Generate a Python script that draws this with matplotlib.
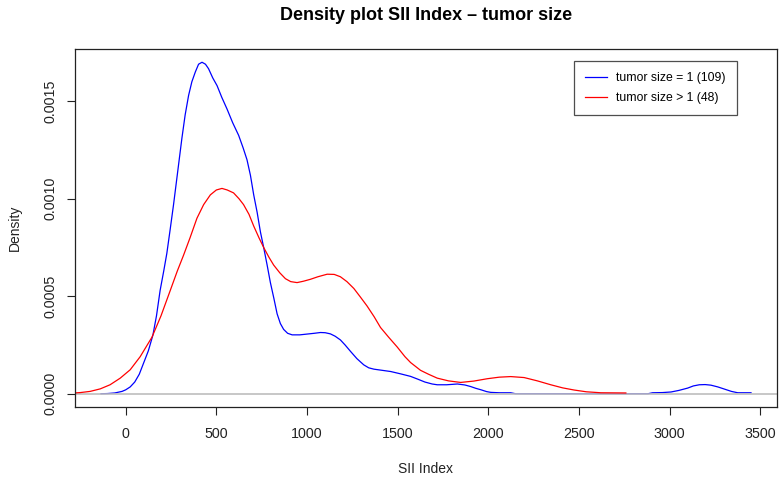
import numpy as np
import matplotlib
matplotlib.use("Agg")
import matplotlib.pyplot as plt

plt.rcParams["font.family"] = ["Liberation Sans", "DejaVu Sans"]

# density curves (x = SII index, y = density)
sii_small = [-136, -100, -60, -20, 0, 25, 50, 75, 100, 125, 150, 170, 190, 210,
             227, 245, 264, 287, 310, 328, 347, 365, 384, 402, 421, 440, 457,
             480, 504, 530, 559, 590, 623, 648, 669, 688, 706, 725, 743, 761,
             780, 798, 817, 835, 853, 871, 893, 918, 960, 1000, 1040, 1074,
             1100, 1129, 1155, 1184, 1210, 1240, 1275, 1313, 1340, 1369, 1415,
             1461, 1516, 1571, 1610, 1650, 1690, 1718, 1770, 1829, 1870, 1902,
             1930, 1960, 1990, 2013, 2060, 2123, 2150, 2500, 2880, 2905, 2960,
             3007, 3050, 3099, 3130, 3163, 3195, 3227, 3265, 3301, 3340, 3375,
             3448]
dens_small = [0.0, 0.000001, 0.000004, 0.000012, 0.00002, 0.000035, 0.00006,
              0.0001, 0.00016, 0.00022, 0.0003, 0.0004, 0.00053, 0.00063,
              0.00072, 0.00084, 0.00097, 0.00114, 0.00131, 0.00143, 0.00153,
              0.0016, 0.00165, 0.00169, 0.0017, 0.00169, 0.001667, 0.00162,
              0.00158, 0.00152, 0.00146, 0.00139, 0.001325, 0.00126, 0.0012,
              0.00112, 0.00102, 0.00093, 0.00083, 0.00075, 0.00066, 0.00057,
              0.00049, 0.00041, 0.00036, 0.00033, 0.00031, 0.000302, 0.000302,
              0.000306, 0.00031, 0.000314, 0.000313, 0.000307, 0.000295,
              0.000276, 0.00025, 0.000217, 0.00018, 0.000148, 0.000133,
              0.000126, 0.00012, 0.000114, 0.000102, 0.000089, 0.000075,
              0.00006, 0.00005, 0.000046, 0.000046, 0.00005, 0.000045, 0.000037,
              0.000028, 0.00002, 0.000011, 0.000007, 0.000005, 0.000005, 0.0,
              0.0, 0.0, 0.000005, 0.000006, 0.000009, 0.000017, 0.000029,
              0.00004, 0.000046, 0.000047, 0.000044, 0.000035, 0.000024,
              0.000012, 0.000005, 0.000005]

sii_large = [-300, -250, -196, -140, -86, -30, 25, 80, 145, 195, 246, 285, 319,
             355, 393, 430, 467, 500, 531, 560, 595, 625, 650, 680, 706, 735,
             761, 790, 816, 850, 881, 910, 945, 980, 1019, 1060, 1111, 1150,
             1184, 1220, 1258, 1295, 1331, 1370, 1405, 1450, 1497, 1540, 1571,
             1626, 1670, 1718, 1780, 1847, 1920, 1994, 2060, 2123, 2197, 2270,
             2344, 2410, 2473, 2540, 2620, 2758]
dens_large = [0.000003, 0.000006, 0.000012, 0.000025, 0.000046, 0.00008,
              0.000123, 0.00019, 0.00029, 0.0004, 0.00053, 0.00063, 0.00071,
              0.0008, 0.0009, 0.00097, 0.00102, 0.001045, 0.001053, 0.001045,
              0.00103, 0.001, 0.00097, 0.00092, 0.00086, 0.0008, 0.00075,
              0.0007, 0.00066, 0.00062, 0.00059, 0.000575, 0.00057, 0.000577,
              0.000587, 0.0006, 0.000613, 0.000612, 0.0006, 0.000575, 0.00054,
              0.000495, 0.00045, 0.000395, 0.00034, 0.00029, 0.00024, 0.00019,
              0.00016, 0.00012, 0.0001, 0.00008, 0.000066, 0.000058, 0.000065,
              0.000077, 0.000085, 0.000088, 0.000083, 0.000066, 0.000046,
              0.00003, 0.000019, 0.00001, 0.000005, 0.000004]

labels = ["tumor size = 1 (109)", "tumor size > 1 (48)"]
x_ticks = [0, 500, 1000, 1500, 2000, 2500, 3000, 3500]
y_ticks = [0.0, 0.0005, 0.0010, 0.0015]

fig = plt.figure(figsize=(7.84, 4.86), dpi=100)
ax = fig.add_axes([75 / 784, 1 - 407 / 486, 702 / 784, 358 / 486])

ax.plot(sii_small, dens_small, color="blue", lw=0.9, label=labels[0])
ax.axhline(0, color="#bebebe", lw=1.2)
ax.plot(sii_large, dens_large, color="red", lw=0.9, label=labels[1])

lo, hi = min(sii_small), max(sii_small)
pad = 0.04 * (hi - lo)
ax.set_xlim(lo - pad, hi + pad)
top = max(dens_small)
ax.set_ylim(-0.04 * top, 1.04 * top)

ax.set_xticks(x_ticks)
ax.set_xticklabels([str(t) for t in x_ticks])
ax.set_yticks(y_ticks)
ax.set_yticklabels([f"{t:.4f}" for t in y_ticks], rotation=90, va="center")
ax.tick_params(length=5.5, width=0.8, color="#222222", labelsize=10.3,
               labelcolor="#222222")
ax.tick_params(axis="x", pad=9)
ax.tick_params(axis="y", pad=7)
for s in ax.spines.values():
    s.set_color("#222222")
    s.set_linewidth(0.9)

ax.set_xlabel("SII Index", fontsize=10, labelpad=15, color="#222222")
ax.set_ylabel("Density", fontsize=10, labelpad=16, color="#222222")
fig.text(426 / 784, 1 - 15 / 486, "Density plot SII Index \u2013 tumor size",
         ha="center", va="center", fontsize=13, fontweight="bold")

leg = ax.legend(loc="upper right", bbox_to_anchor=(737 / 784, 1 - 61 / 486),
                bbox_transform=fig.transFigure, fontsize=8.8, frameon=True,
                fancybox=False, handlelength=1.8, handletextpad=0.75,
                borderpad=0.9, labelspacing=0.65, borderaxespad=0)
leg.get_frame().set_edgecolor("#222222")
leg.get_frame().set_linewidth(0.9)

fig.savefig("out.png", dpi=100)
